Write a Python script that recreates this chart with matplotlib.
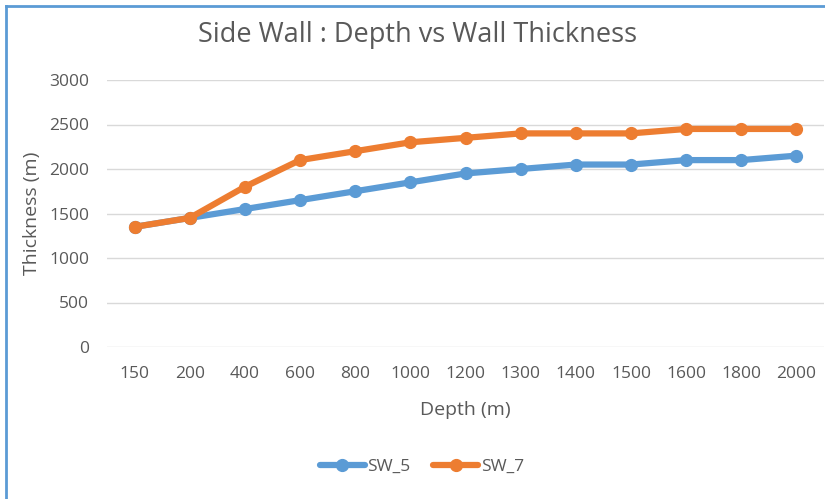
import numpy as np
import matplotlib
matplotlib.use("Agg")
from matplotlib import pyplot as plt
from matplotlib.lines import Line2D

depth = ["150", "200", "400", "600", "800", "1000", "1200",
         "1300", "1400", "1500", "1600", "1800", "2000"]
sw_5 = [1350, 1450, 1550, 1650, 1750, 1850, 1950, 2000, 2050, 2050, 2100, 2100, 2150]
sw_7 = [1350, 1450, 1800, 2100, 2200, 2300, 2350, 2400, 2400, 2400, 2450, 2450, 2450]

plt.rcParams['font.family'] = ['Open Sans', 'DejaVu Sans']
text_col = '#595959'

W, H = 825, 499
fig = plt.figure(figsize=(W / 100, H / 100), dpi=100)

# plot area in pixel coords: left 107, right 824, top 80, bottom 347
ax = fig.add_axes([107 / W, 1 - 347 / H, (824 - 107) / W, (347 - 80) / H])

x = np.arange(len(depth))
ax.plot(x, sw_5, color='#5B9BD5', lw=4.5, marker='o', ms=8.5, label='SW_5',
        solid_capstyle='round', zorder=3)
ax.plot(x, sw_7, color='#ED7D31', lw=4.5, marker='o', ms=8.5, label='SW_7',
        solid_capstyle='round', zorder=3)

ax.set_xlim(-0.5, len(depth) - 0.5)
ax.set_ylim(0, 3000)
ax.set_yticks(np.arange(0, 3001, 500))
ax.set_xticks(x)
ax.set_xticklabels(depth)
ax.grid(axis='y', color='#d9d9d9', lw=1)
ax.set_axisbelow(True)
for s in ax.spines.values():
    s.set_visible(False)
ax.tick_params(length=0, colors=text_col, labelsize=12.5)
ax.tick_params(axis='x', pad=14)
ax.tick_params(axis='y', pad=13)

ax.set_xlabel('Depth (m)', color=text_col, fontsize=14, labelpad=13)
ax.set_ylabel('Thickness (m)', color=text_col, fontsize=14, labelpad=6)

fig.text(418 / W, 1 - 35 / H, 'Side Wall : Depth vs Wall Thickness',
         ha='center', va='center', color=text_col, fontsize=19.5)

ax.legend(loc='center', bbox_to_anchor=(422 / W, 1 - 467 / H),
          bbox_transform=fig.transFigure, ncol=2, frameon=False,
          fontsize=12.5, labelcolor=text_col, handlelength=2.6,
          columnspacing=1.3, handletextpad=0.15)

# blue frame (left and top edges visible)
fig.add_artist(Line2D([6 / W, 6 / W], [0, 1 - 6 / H], color='#5B9BD5', lw=2,
                      transform=fig.transFigure))
fig.add_artist(Line2D([6 / W, 1], [1 - 6 / H, 1 - 6 / H], color='#5B9BD5', lw=2,
                      transform=fig.transFigure))

fig.savefig('out.png', dpi=100)
